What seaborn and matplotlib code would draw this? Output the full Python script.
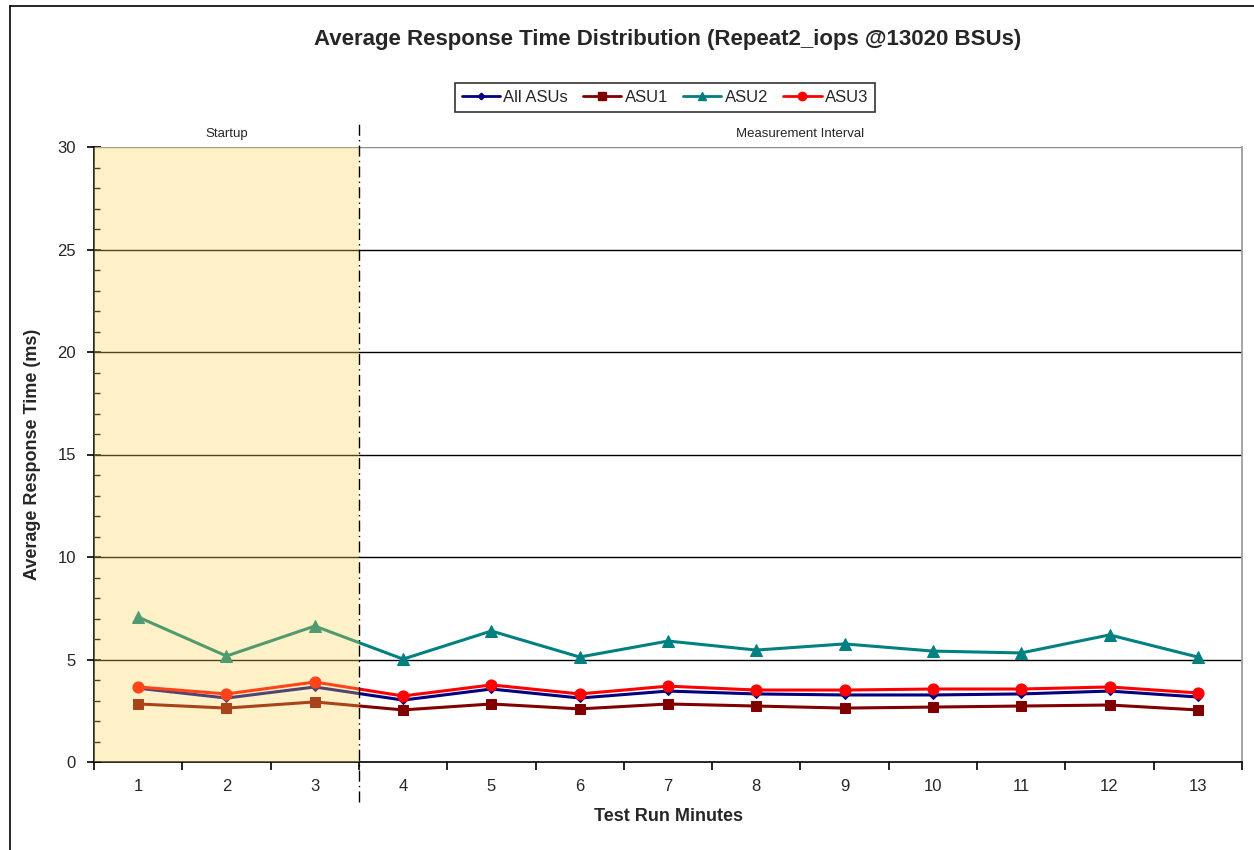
import matplotlib
matplotlib.use("Agg")
import matplotlib.pyplot as plt
import seaborn as sns
import pandas as pd
from matplotlib.lines import Line2D
from matplotlib.ticker import MultipleLocator, FixedLocator

minutes = list(range(1, 14))
all_asus = [3.60, 3.12, 3.66, 3.02, 3.56, 3.12, 3.46, 3.32, 3.27, 3.27, 3.32, 3.46, 3.17]
asu1 = [2.83, 2.63, 2.93, 2.54, 2.83, 2.59, 2.83, 2.73, 2.63, 2.68, 2.73, 2.78, 2.54]
asu2 = [7.07, 5.17, 6.63, 5.02, 6.39, 5.12, 5.90, 5.46, 5.76, 5.41, 5.32, 6.20, 5.12]
asu3 = [3.66, 3.32, 3.90, 3.22, 3.76, 3.32, 3.70, 3.51, 3.51, 3.56, 3.56, 3.66, 3.37]
series_names = ["All ASUs", "ASU1", "ASU2", "ASU3"]
startup_end = 3

sns.set_theme(style="white")
plt.rcParams['font.family'] = ['Liberation Sans', 'DejaVu Sans']

df = pd.concat([
    pd.DataFrame({"Minute": minutes, "Value": v, "Series": n})
    for n, v in zip(series_names, [all_asus, asu1, asu2, asu3])
])

palette = {"All ASUs": "#000080", "ASU1": "#800000", "ASU2": "#008080", "ASU3": "#FF0000"}
markers = {"All ASUs": "D", "ASU1": "s", "ASU2": "^", "ASU3": "o"}
msize = {"All ASUs": 4.5, "ASU1": 7.5, "ASU2": 8, "ASU3": 8}

fig = plt.figure(figsize=(12.54, 8.5), dpi=100)
ax = fig.add_axes([94/1254, 1 - 762/850, (1242-94)/1254, (762-147)/850])

for name in series_names:
    sub = df[df["Series"] == name]
    sns.lineplot(data=sub, x="Minute", y="Value", ax=ax, color=palette[name],
                 marker=markers[name], markersize=msize[name], markeredgecolor=palette[name],
                 linewidth=2.2, legend=False, zorder=3)

ax.set_xlim(0.5, 13.5)
ax.set_ylim(0, 30)

# startup shading overlay
ax.axvspan(0.5, startup_end + 0.5, color="#FFD453", alpha=0.32, zorder=5, lw=0)

# grid
for yv in range(5, 31, 5):
    ax.axhline(yv, color="black" if yv < 30 else "#888888", lw=1, zorder=1)

# separator line
ax.plot([startup_end + 0.5] * 2, [-1.95, 31.2], color="black", lw=1,
        linestyle=(0, (8, 3, 1, 3)), clip_on=False, zorder=6)

ax.text((0.5 + startup_end + 0.5) / 2, 30.35, "Startup", ha="center", va="bottom", fontsize=9.5)
ax.text((startup_end + 0.5 + 13.5) / 2, 30.35, "Measurement Interval", ha="center", va="bottom", fontsize=9.5)

ax.spines["top"].set_visible(False)
ax.spines["right"].set_color("#999999")
for s in ["left", "bottom"]:
    ax.spines[s].set_color("black")
    ax.spines[s].set_linewidth(1.2)

ax.set_xticks(minutes)
ax.set_xticklabels([str(m) for m in minutes], fontsize=12)
ax.xaxis.set_minor_locator(FixedLocator([m + 0.5 for m in range(0, 14)]))
ax.tick_params(axis="x", which="major", length=0, pad=12)
ax.tick_params(axis="x", which="minor", length=6, direction="out", color="black", width=1.2, bottom=True)
ax.set_yticks(range(0, 31, 5))
ax.set_yticklabels([str(v) for v in range(0, 31, 5)], fontsize=12)
ax.yaxis.set_minor_locator(MultipleLocator(1))
ax.tick_params(axis="y", which="major", length=10, direction="inout", color="black", width=1.2, left=True, pad=8)
ax.tick_params(axis="y", which="minor", length=4, direction="in", color="black", width=1, left=True)

ax.set_xlabel("Test Run Minutes", fontsize=13, fontweight="bold", labelpad=10)
ax.set_ylabel("Average Response Time (ms)", fontsize=13, fontweight="bold", labelpad=12)

fig.text(668/1254, 1 - 40/850, "Average Response Time Distribution (Repeat2_iops @13020 BSUs)",
         ha="center", va="center", fontsize=16, fontweight="bold")

handles = [Line2D([0], [0], color=palette[n], marker=markers[n], markersize=msize[n] * 0.75,
                  lw=2, markeredgecolor=palette[n]) for n in series_names]
leg = fig.legend(handles, series_names, loc="upper center", bbox_to_anchor=(665/1254, 1 - 75/850),
                 ncol=4, frameon=True, fontsize=12, handlelength=2.3, columnspacing=0.9,
                 handletextpad=0.2, borderpad=0.4, fancybox=False, edgecolor="black")
leg.get_frame().set_linewidth(1.2)

# outer frame (left and top edges)
fig.add_artist(Line2D([10/1254, 10/1254], [0, 1 - 6/850], transform=fig.transFigure, color="black", lw=1.2))
fig.add_artist(Line2D([10/1254, 1], [1 - 6/850, 1 - 6/850], transform=fig.transFigure, color="black", lw=1.2))

fig.savefig("out.png", dpi=100, facecolor="white")
